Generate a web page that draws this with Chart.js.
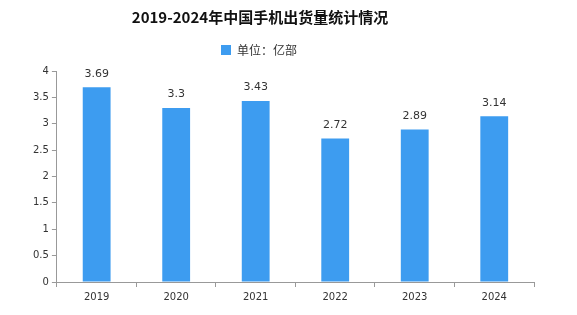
<!DOCTYPE html>
<html>
<head>
<meta charset="utf-8">
<script src="https://cdn.jsdelivr.net/npm/chart.js@4.4.0/dist/chart.umd.min.js"></script>
<style>
  html, body { margin: 0; padding: 0; background: #fff; }
  #wrap { width: 577px; height: 315px; position: relative; }
</style>
</head>
<body>
<div id="wrap"><canvas id="grafico"></canvas></div>
<script>
var anios = ["2019", "2020", "2021", "2022", "2023", "2024"];
var envios = [3.69, 3.3, 3.43, 2.72, 2.89, 3.14];
var serie = "单位：亿部";
var titulo = "2019-2024年中国手机出货量统计情况";

// etiquetas de valor encima de cada barra
var etiquetasValor = {
    id: "etiquetasValor",
    beforeLayout: function (chart) {
        // un poco mas de aire debajo de la leyenda
        var lg = chart.legend;
        if (lg && !lg._extra) {
            var fitOrig = lg.fit;
            lg.fit = function () { fitOrig.call(this); this.height += 5; };
            lg._extra = true;
        }
    },
    afterLayout: function (chart) {
        // titulo y leyenda algo corridos a la izquierda, como en el original
        if (chart.titleBlock) chart.titleBlock.right -= 44;
        if (chart.legend) chart.legend.right -= 46;
    },
    afterDatasetsDraw: function (chart) {
        var ctx = chart.ctx;
        var meta = chart.getDatasetMeta(0);
        ctx.save();
        ctx.font = "11px 'DejaVu Sans', sans-serif";
        ctx.fillStyle = "#333";
        ctx.textAlign = "center";
        ctx.textBaseline = "bottom";
        meta.data.forEach(function (bar, i) {
            ctx.fillText(String(chart.data.datasets[0].data[i]), bar.x, bar.y - 8);
        });
        ctx.restore();
    }
};

var ctx = document.getElementById("grafico").getContext("2d");
new Chart(ctx, {
    type: "bar",
    data: {
        labels: anios,
        datasets: [{
            label: serie,
            backgroundColor: "#3d9cf0",
            borderWidth: 0,
            data: envios,
            categoryPercentage: 1,
            barPercentage: 0.35
        }]
    },
    plugins: [etiquetasValor],
    options: {
        responsive: true,
        maintainAspectRatio: false,
        animation: false,
        layout: { padding: { left: 30, right: 43, top: 4, bottom: 8 } },
        plugins: {
            title: {
                display: true,
                text: titulo,
                color: "#111",
                font: { family: "'Noto Sans CJK SC'", size: 15, weight: "bold" },
                padding: { top: 4, bottom: 10 }
            },
            legend: {
                display: true,
                labels: {
                    boxWidth: 10,
                    boxHeight: 10,
                    color: "#333",
                    font: { family: "'Noto Sans CJK SC'", size: 12 },
                    padding: 8
                }
            },
            tooltip: { enabled: false }
        },
        scales: {
            x: {
                grid: { display: true, drawOnChartArea: false, offset: true, tickLength: 5, color: "#999" },
                border: { color: "#999" },
                ticks: { color: "#333", font: { family: "'DejaVu Sans'", size: 10 }, padding: 4 }
            },
            y: {
                min: 0,
                max: 4,
                grid: { display: true, drawOnChartArea: false, tickLength: 5, color: "#999" },
                border: { color: "#999" },
                ticks: {
                    stepSize: 0.5,
                    color: "#333",
                    font: { family: "'DejaVu Sans'", size: 10 },
                    padding: 3,
                    callback: function (v) { return String(v); }
                }
            }
        }
    }
});
</script>
</body>
</html>
